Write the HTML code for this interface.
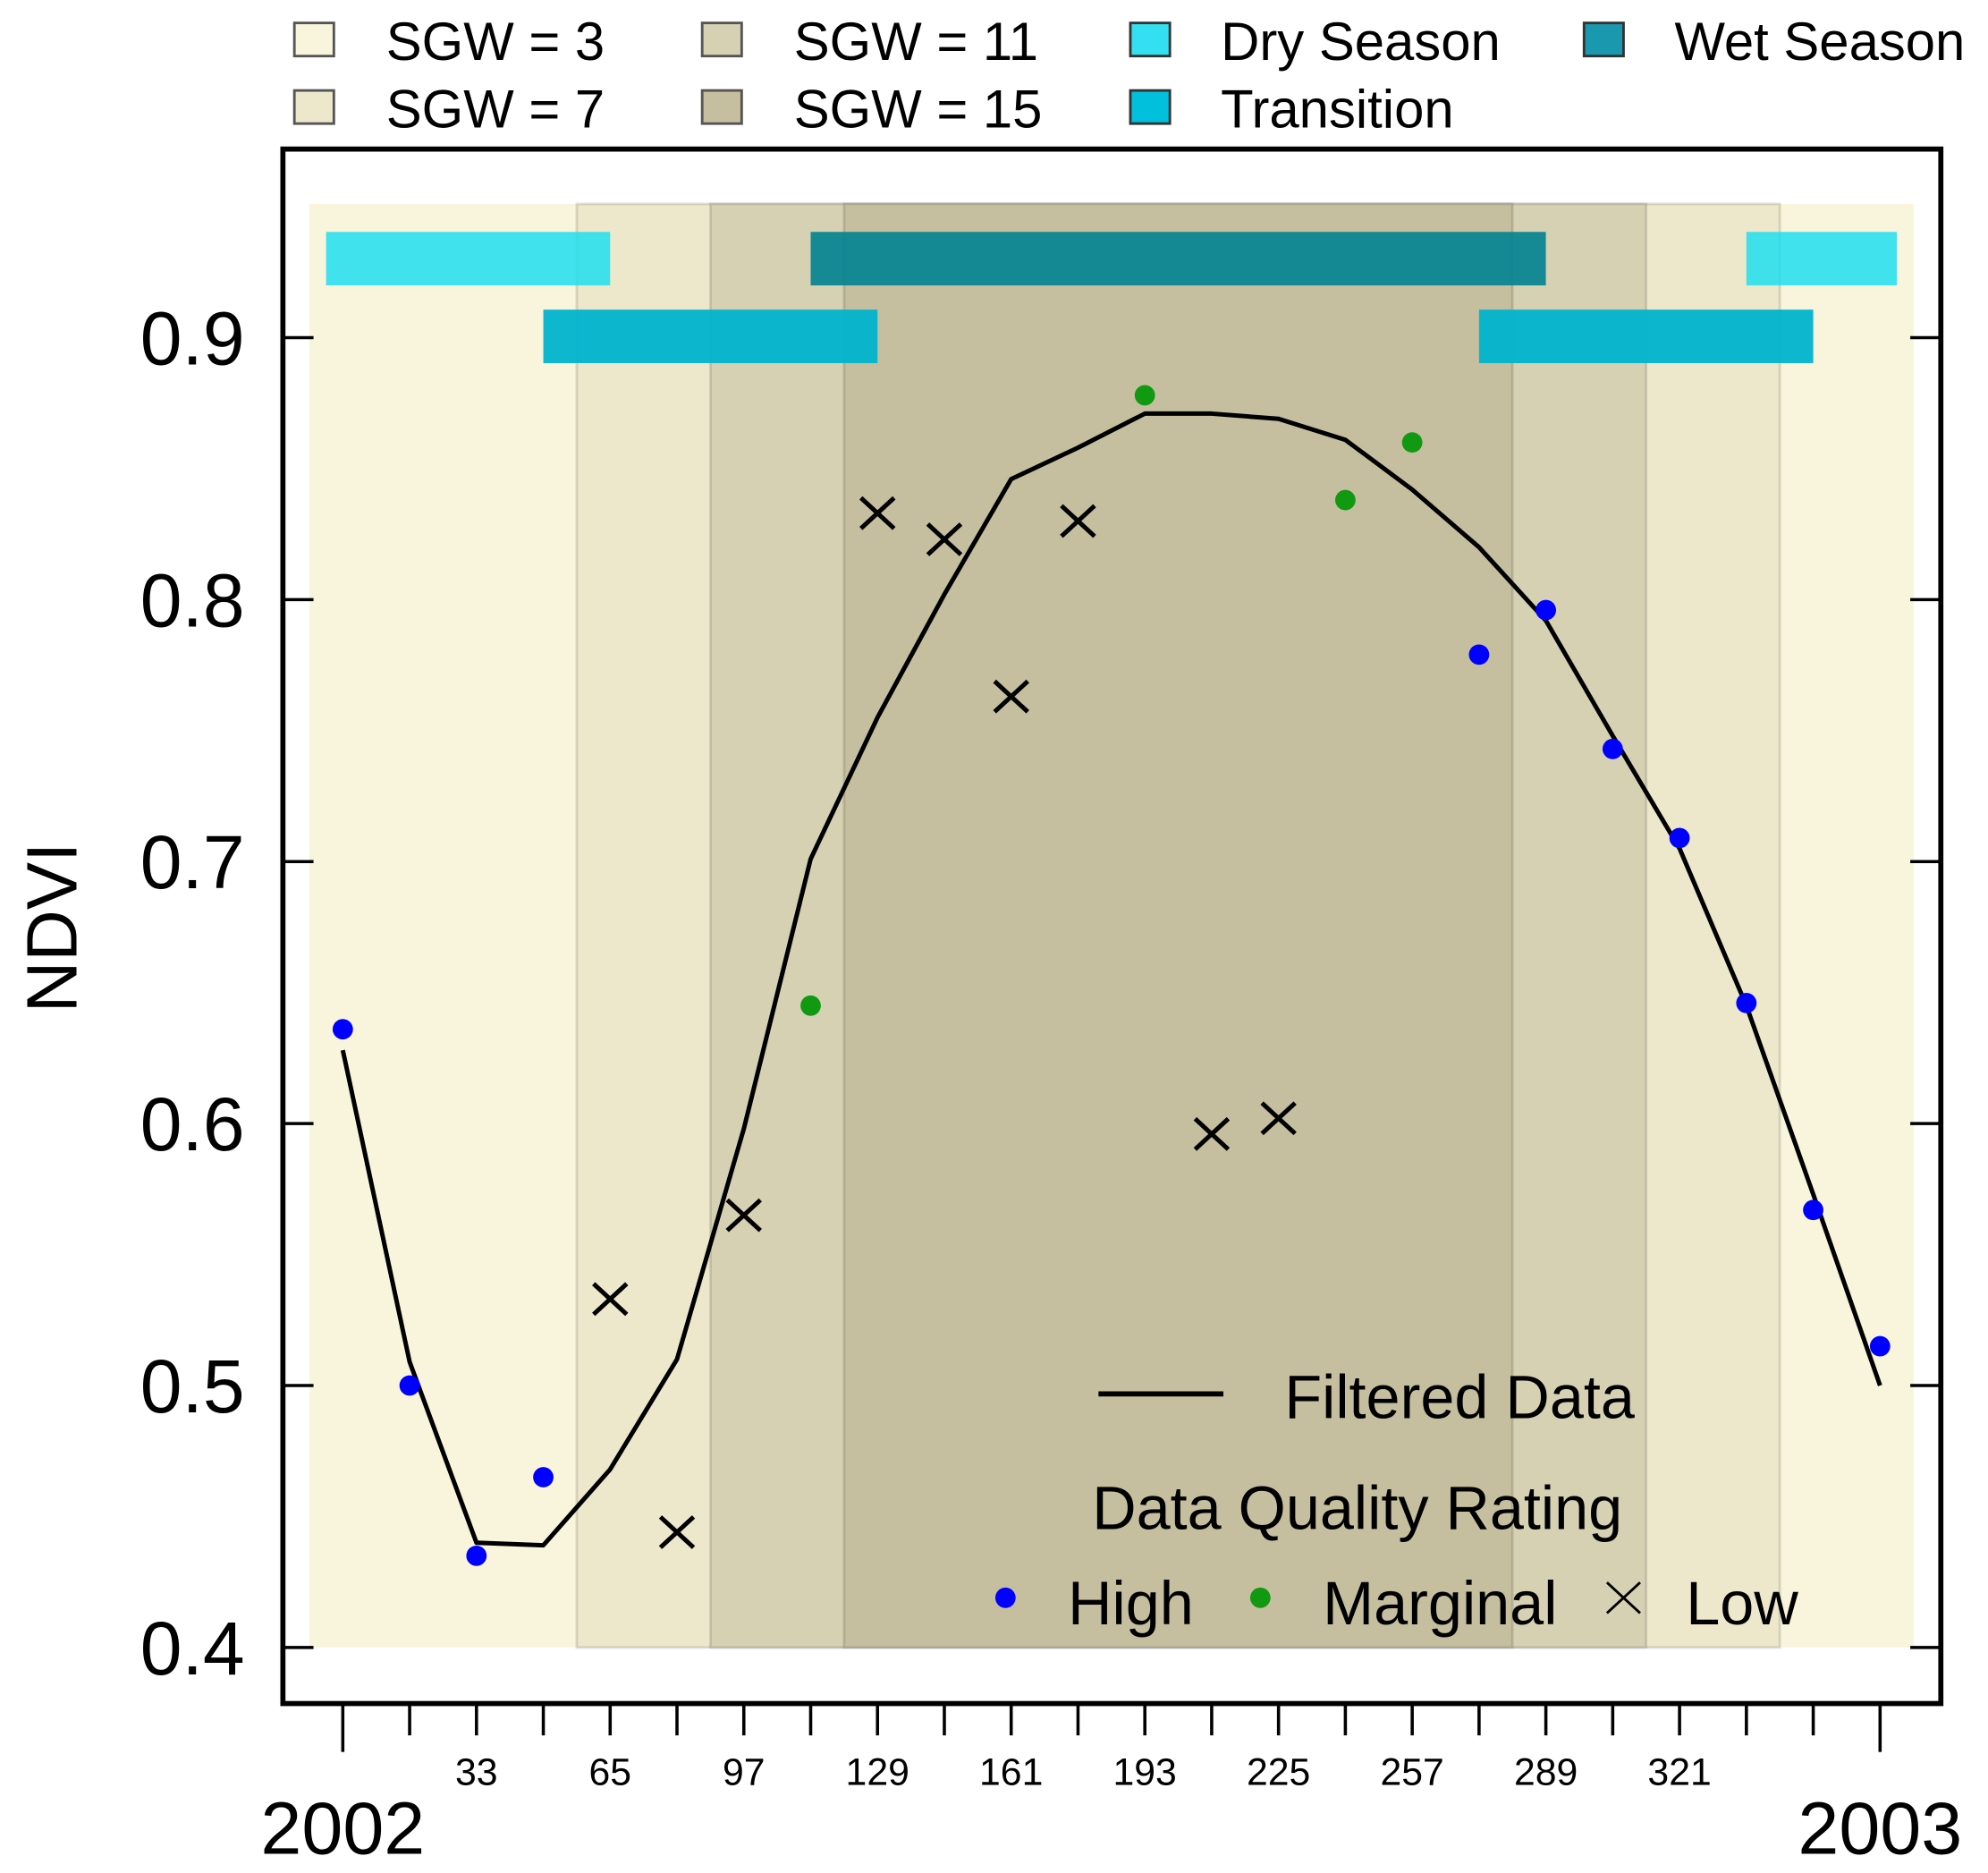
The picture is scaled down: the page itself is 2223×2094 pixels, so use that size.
<!DOCTYPE html>
<html><head><meta charset="utf-8"><style>
html,body{margin:0;padding:0;background:#fff;overflow:hidden;}
svg{display:block;font-family:"Liberation Sans",Arial,sans-serif;}
</style></head><body>
<svg id="chart" width="2223" height="2094" viewBox="0 0 1560 1470" preserveAspectRatio="none" xmlns="http://www.w3.org/2000/svg">
<g id="bg"></g>
<g id="seasons"></g>
<g id="series"></g>
<rect x="222" y="117" width="1301" height="1220" fill="none" stroke="#000" stroke-width="4"/>
<g id="axes"></g>
<text transform="translate(60,728) rotate(-90)" text-anchor="middle" font-size="56">NDVI</text>
<g font-size="42">
 <rect x="231" y="18" width="31" height="26" fill="#f9f5dc" stroke="#555" stroke-width="2"/>
 <text x="303" y="47">SGW = 3</text>
 <rect x="231" y="71" width="31" height="26" fill="#ede8cb" stroke="#555" stroke-width="2"/>
 <text x="303" y="100">SGW = 7</text>
 <rect x="551" y="18" width="31" height="26" fill="#d6d1b3" stroke="#555" stroke-width="2"/>
 <text x="623" y="47">SGW = 11</text>
 <rect x="551" y="71" width="31" height="26" fill="#c5bf9f" stroke="#555" stroke-width="2"/>
 <text x="623" y="100">SGW = 15</text>
 <rect x="887" y="18" width="31" height="26" fill="#33e0f2" stroke="#333" stroke-width="2"/>
 <text x="958" y="47">Dry Season</text>
 <rect x="887" y="71" width="31" height="26" fill="#00c0dc" stroke="#333" stroke-width="2"/>
 <text x="958" y="100">Transition</text>
 <rect x="1243" y="18" width="31" height="26" fill="#1a98ad" stroke="#333" stroke-width="2"/>
 <text x="1314" y="47">Wet Season</text>
</g>
<g font-size="48">
 <line x1="862" y1="1094" x2="960" y2="1094" stroke="#000" stroke-width="4"/>
 <text x="1008" y="1113">Filtered Data</text>
 <text x="857" y="1200">Data Quality Rating</text>
 <circle cx="789" cy="1254" r="8" fill="#0000ff"/>
 <text x="838" y="1275">High</text>
 <circle cx="989" cy="1254" r="8" fill="#119911"/>
 <text x="1038" y="1275">Marginal</text>
 <path d="M1261,1242 L1287,1266 M1287,1242 L1261,1266" stroke="#000" stroke-width="2"/>
 <text x="1323" y="1275">Low</text>
</g>
</svg>
<script>
const days=[1,17,33,49,65,81,97,113,129,145,161,177,193,209,225,241,257,273,289,305,321,337,353,369];
const ndvi=[0.636,0.5,0.435,0.465,0.533,0.444,0.565,0.645,0.833,0.823,0.763,0.830,0.878,0.596,0.602,0.838,0.860,0.779,0.796,0.743,0.709,0.646,0.567,0.515];
const quality=["H","H","H","H","L","L","L","M","L","L","L","L","M","L","L","M","M","H","H","H","H","H","H","H"];
const filtered=[0.628,0.509,0.440,0.439,0.468,0.510,0.598,0.701,0.755,0.802,0.846,0.858,0.871,0.871,0.869,0.861,0.842,0.820,0.792,0.748,0.705,0.645,0.573,0.500];
const yTicks=[0.4,0.5,0.6,0.7,0.8,0.9];
const dayLabels=[33,65,97,129,161,193,225,257,289,321];
const sgwStart=[-7,57,89,121];
const sgwEnd=[377,345,313,281];
const sgwColors=["#f9f5dc","#ede8cb","#d6d1b3","#c5bf9f"];
const seasonStart=[-3,337,113,49,273];
const seasonEnd=[65,373,289,129,353];
const seasonType=["dry","dry","wet","transition","transition"];
const X=d=>269+(d-1)*3.278;
const Y=v=>1293-(v-0.4)*2056;
const NS="http://www.w3.org/2000/svg";
function mk(tag,attrs,parent){const e=document.createElementNS(NS,tag);for(const k in attrs)e.setAttribute(k,attrs[k]);parent.appendChild(e);return e;}
const bg=document.getElementById('bg');
for(let i=0;i<sgwStart.length;i++){
 const r=mk('rect',{x:X(sgwStart[i]),y:160,width:X(sgwEnd[i])-X(sgwStart[i]),height:Y(0.4)-160,fill:sgwColors[i],stroke:i?"rgba(0,0,0,0.12)":"none","stroke-width":2},bg);
 
 
}
const se=document.getElementById('seasons');
const sCol={dry:"rgba(30,222,240,0.85)",wet:"rgba(0,130,145,0.9)",transition:"rgba(0,180,205,0.95)"};
for(let i=0;i<seasonStart.length;i++){
 const top=seasonType[i]==="transition"?243:182;
 const r=mk('rect',{x:X(seasonStart[i]),y:top,width:X(seasonEnd[i])-X(seasonStart[i]),height:42,fill:sCol[seasonType[i]]},se);
 
 
}
const sr=document.getElementById('series');
const pl=mk('polyline',{points:days.map((d,i)=>X(d)+','+Y(filtered[i])).join(' '),fill:"none",stroke:"#000","stroke-width":3.5,"stroke-linejoin":"round"},sr);


for(let i=0;i<days.length;i++){
 const x=X(days[i]),y=Y(ndvi[i]);
 let m;
 if(quality[i]==="L"){m=mk('path',{d:`M${x-13},${y-12}L${x+13},${y+12}M${x+13},${y-12}L${x-13},${y+12}`,stroke:"#000","stroke-width":3.5},sr);}
 else{m=mk('circle',{cx:x,cy:y,r:8,fill:quality[i]==="H"?"#0000ff":"#119911"},sr);}
 
 
}
const ax=document.getElementById('axes');
for(const v of yTicks){
 const y=Y(v);
 const t1=mk('line',{x1:222,y1:y,x2:246,y2:y,stroke:"#000","stroke-width":2.5},ax);
 
 
 const t2=mk('line',{x1:1499,y1:y,x2:1523,y2:y,stroke:"#000","stroke-width":2.5},ax);
 
 
 const l=mk('text',{x:192,y:y+21,"text-anchor":"end","font-size":59},ax);
 l.textContent=v.toFixed(1);
 
 
}
for(let i=0;i<days.length;i++){
 const x=X(days[i]);const major=(i===0||i===days.length-1);
 const t=mk('line',{x1:x,y1:1337,x2:x,y2:major?1375:1362,stroke:"#000","stroke-width":2.5},ax);
 
 
}
for(const d of dayLabels){
 const l=mk('text',{x:X(d),y:1401,"text-anchor":"middle","font-size":30},ax);
 l.textContent=d;
 
 
}
[["2002",1],["2003",369]].forEach(([s,d])=>{
 const l=mk('text',{x:X(d),y:1455,"text-anchor":"middle","font-size":58},ax);
 l.textContent=s;
 
 
});
</script>
</body></html>
